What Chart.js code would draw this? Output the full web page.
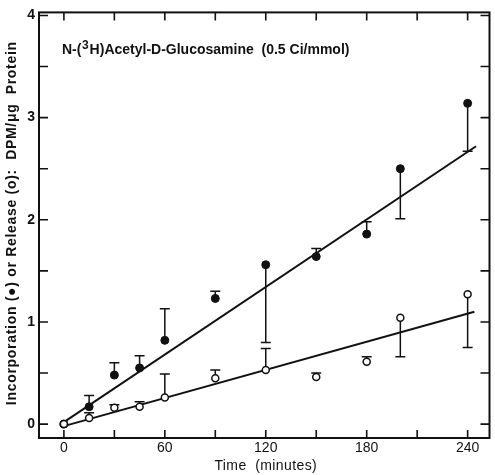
<!DOCTYPE html>
<html>
<head>
<meta charset="utf-8">
<script src="https://cdn.jsdelivr.net/npm/chart.js@4"></script>
<style>
  html, body { margin: 0; padding: 0; background: #fff; }
  #wrap { width: 495px; height: 475px; }
</style>
</head>
<body>
<div id="wrap"><canvas id="c" width="495" height="475"></canvas></div>
<script>
// ---- data ----
const times = [0, 15, 30, 45, 60, 90, 120, 150, 180, 200, 240];
const incorporation    = [0, 0.17, 0.48, 0.55, 0.82, 1.23, 1.56, 1.64, 1.86, 2.50, 3.14];
const incorporationErr = [0, 0.11, 0.12, 0.12, 0.31, 0.07, -0.76, 0.08, 0.12, -0.49, -0.47];
const release    = [0, 0.06, 0.16, 0.17, 0.26, 0.45, 0.53, 0.46, 0.61, 1.04, 1.27];
const releaseErr = [0, 0.05, 0.03, 0.05, 0.23, 0.08, 0.21, 0.04, 0.05, -0.38, -0.52];
const incFitTimes = [0, 245];
const incFitValues = [0.02, 2.72];
const relFitTimes = [0, 244];
const relFitValues = [-0.02, 1.10];

const xTickLabels = [0, 60, 120, 180, 240];
const yTickLabels = [0, 1, 2, 3, 4];
const xMarkTicks = [0, 30, 60, 90, 120, 150, 180, 210, 240];
const yMarkTicks = [0, 0.5, 1, 1.5, 2, 2.5, 3, 3.5, 4];

const titleParts = ["N-(", "3", "H)Acetyl-D-Glucosamine  (0.5 Ci/mmol)"];
const xTitle = "Time  (minutes)";
const yTitle = "Incorporation (\u25CF) or Release (o):  DPM/\u03BCg  Protein";

const pts = (xs, ys) => xs.map((x, i) => ({ x: x, y: ys[i] }));

const INK = '#111';
const FONT = '"Liberation Sans", Arial, sans-serif';

const framePlugin = {
  id: 'frame',
  beforeDatasetsDraw(chart) {
    const ctx = chart.ctx;
    const xs = chart.scales.x, ys = chart.scales.y;
    const a = chart.chartArea;
    ctx.save();
    ctx.strokeStyle = INK;
    ctx.lineWidth = 2;
    ctx.strokeRect(a.left, a.top, a.right - a.left, a.bottom - a.top);
    ctx.lineWidth = 1.6;
    ctx.beginPath();
    yMarkTicks.forEach(v => {
      const y = ys.getPixelForValue(v);
      ctx.moveTo(a.left, y); ctx.lineTo(a.left + 9, y);
      ctx.moveTo(a.right, y); ctx.lineTo(a.right - 9, y);
    });
    xMarkTicks.forEach(v => {
      const x = xs.getPixelForValue(v);
      ctx.moveTo(x, a.top); ctx.lineTo(x, a.top + 8);
      ctx.moveTo(x, a.bottom); ctx.lineTo(x, a.bottom - 8);
    });
    ctx.stroke();
    ctx.lineWidth = 1.5;
    const bars = (vals, errs) => {
      ctx.beginPath();
      times.forEach((t, i) => {
        if (!errs[i]) return;
        const x = xs.getPixelForValue(t);
        const y0 = ys.getPixelForValue(vals[i]);
        const y1 = ys.getPixelForValue(vals[i] + errs[i]);
        ctx.moveTo(x, y0); ctx.lineTo(x, y1);
        ctx.moveTo(x - 5, y1); ctx.lineTo(x + 5, y1);
      });
      ctx.stroke();
    };
    bars(incorporation, incorporationErr);
    bars(release, releaseErr);
    ctx.restore();
  },
  afterDraw(chart) {
    const ctx = chart.ctx;
    const a = chart.chartArea;
    ctx.save();
    ctx.fillStyle = INK;
    ctx.textBaseline = 'alphabetic';
    ctx.textAlign = 'left';
    // in-plot title with superscript
    let x = 62;
    const base = 54;
    ctx.font = '600 14px ' + FONT;
    ctx.fillText(titleParts[0], x, base);
    x += ctx.measureText(titleParts[0]).width;
    ctx.font = '600 12px ' + FONT;
    ctx.fillText(titleParts[1], x + 0.5, base - 5);
    x += ctx.measureText(titleParts[1]).width + 1.5;
    ctx.font = '600 14px ' + FONT;
    ctx.fillText(titleParts[2], x, base);
    // x-axis title
    ctx.textAlign = 'center';
    ctx.textBaseline = 'middle';
    ctx.font = '14px ' + FONT;
    ctx.letterSpacing = '0.4px';
    ctx.fillText(xTitle, (chart.scales.x.getPixelForValue(120)), 466);
    // y-axis title
    ctx.translate(12, (a.top + a.bottom) / 2 - 2);
    ctx.rotate(-Math.PI / 2);
    ctx.font = 'bold 14px ' + FONT;
    ctx.letterSpacing = '0.7px';
    ctx.fillText(yTitle, 0, 0);
    ctx.restore();
  }
};

new Chart(document.getElementById('c'), {
  type: 'scatter',
  data: {
    datasets: [
      {
        label: 'Release',
        data: pts(times, release),
        pointRadius: 3.5,
        pointBorderWidth: 1.5,
        pointBackgroundColor: '#fff',
        pointBorderColor: INK,
        showLine: false
      },
      {
        label: 'Incorporation',
        data: pts(times, incorporation),
        pointRadius: 4,
        pointBorderWidth: 1,
        pointBackgroundColor: INK,
        pointBorderColor: INK,
        showLine: false
      },
      {
        type: 'line',
        label: 'Incorporation fit',
        data: pts(incFitTimes, incFitValues),
        borderColor: INK,
        borderWidth: 2,
        pointRadius: 0,
        fill: false
      },
      {
        type: 'line',
        label: 'Release fit',
        data: pts(relFitTimes, relFitValues),
        borderColor: INK,
        borderWidth: 2,
        pointRadius: 0,
        fill: false
      }
    ]
  },
  options: {
    responsive: false,
    animation: false,
    devicePixelRatio: 1,
    layout: { padding: { left: 0, right: 3, top: 10, bottom: 0 } },
    plugins: { legend: { display: false }, tooltip: { enabled: false } },
    scales: {
      x: {
        type: 'linear',
        min: -14.8,
        max: 253,
        grid: { display: false, drawTicks: false },
        border: { display: false },
        afterBuildTicks: s => { s.ticks = xTickLabels.map(v => ({ value: v })); },
        afterFit: s => { s.height = 37; },
        ticks: {
          color: INK,
          padding: 2,
          maxRotation: 0,
          autoSkip: false,
          font: { family: FONT, size: 14 }
        },
        title: { display: false }
      },
      y: {
        min: -0.136,
        max: 4.03,
        grid: { display: false, drawTicks: false },
        border: { display: false },
        afterBuildTicks: s => { s.ticks = yTickLabels.map(v => ({ value: v })); },
        afterFit: s => { s.width = 39; },
        ticks: {
          color: INK,
          padding: 4,
          autoSkip: false,
          font: { family: FONT, size: 14, weight: 'bold' }
        },
        title: { display: false }
      }
    }
  },
  plugins: [framePlugin]
});
</script>
</body>
</html>
